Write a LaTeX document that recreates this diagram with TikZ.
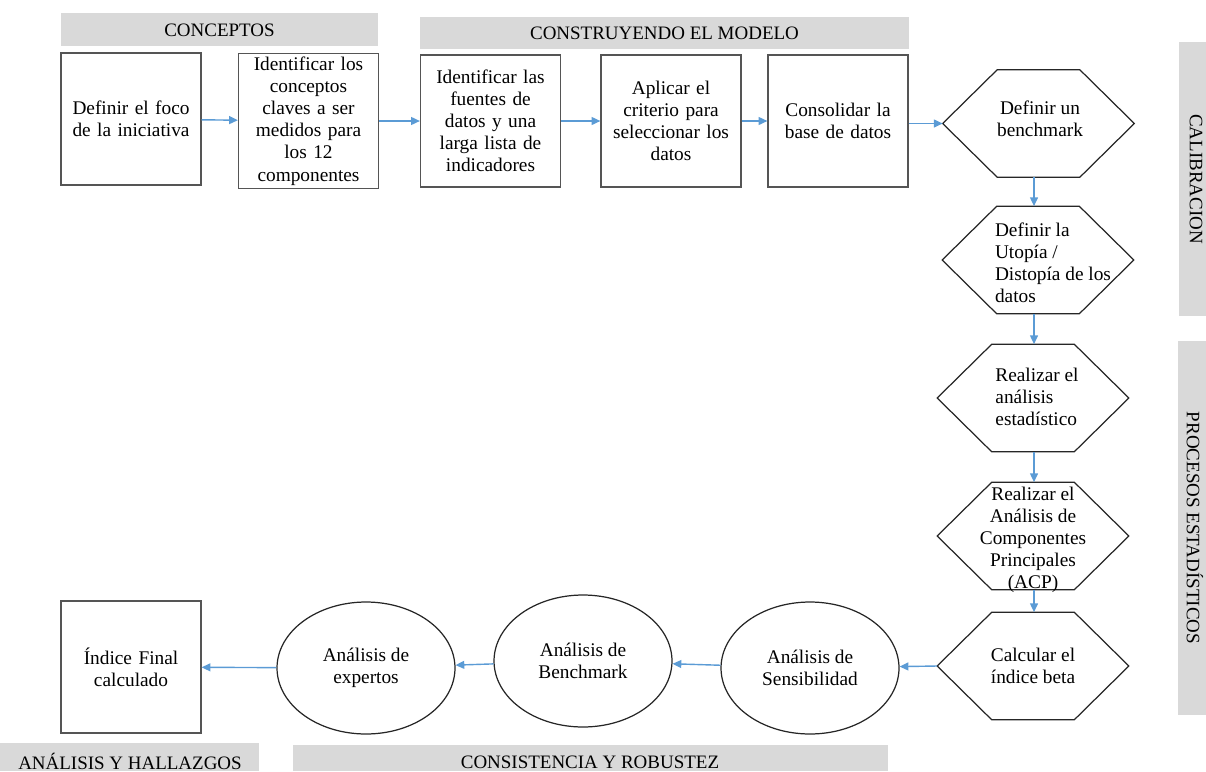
\documentclass[tikz,border=0pt]{standalone}
\usepackage{fontspec}
\setmainfont{Liberation Serif}
\usetikzlibrary{shapes.geometric,arrows.meta,calc}
\definecolor{bargray}{HTML}{D9D9D9}
\definecolor{arrowblue}{HTML}{5B9BD5}
\definecolor{boxline}{HTML}{555555}
\begin{document}
\begin{tikzpicture}[x=0.02cm,y=-0.02cm,
  font=\fontsize{11}{12.6}\selectfont,
  bartext/.style={inner sep=0,font=\fontsize{10.8}{12}\selectfont},
  stepbox/.style={draw=boxline,line width=0.7pt,minimum width=2.8cm,minimum height=2.64cm,inner sep=2pt,text width=2.5cm,align=center},
  hexbox/.style={draw=none,minimum width=3.82cm,minimum height=2.14cm,inner sep=0},
  hexline/.style={draw=black!85,line width=0.7pt},
  hextext/.style={inner sep=0,align=center},
  oval/.style={ellipse,draw=black!85,line width=0.7pt,minimum width=3.56cm,minimum height=2.64cm,inner sep=0,align=center},
  flow/.style={draw=arrowblue,line width=0.8pt,-{Triangle[length=5pt,width=4.5pt]}}
]
\useasboundingbox (0,0) rectangle (1206,771);

% header bars
\fill[bargray] (61,13) rectangle (378,46);
\node[bartext] (hc) at (219.5,30) {CONCEPTOS};
\fill[bargray] (420,17) rectangle (909,49);
\node[bartext] (hm) at (664.5,33) {CONSTRUYENDO EL MODELO};
\fill[bargray] (1179,42) rectangle (1206,316);
\node[bartext,rotate=-90] (hcal) at (1196,179) {CALIBRACION};
\fill[bargray] (1178,341) rectangle (1206,715);
\node[bartext,rotate=-90] (hpro) at (1195,528) {PROCESOS ESTADÍSTICOS};
\fill[bargray] (0,743) rectangle (259,771);
\node[bartext] (hana) at (130,761) {ANÁLISIS Y HALLAZGOS};
\fill[bargray] (293,745) rectangle (888,771);
\node[bartext] (hcon) at (590,762) {CONSISTENCIA Y ROBUSTEZ};

% top row boxes
\node[stepbox] (b1) at (131,119) {Definir el foco\\de la iniciativa};
\node[stepbox] (b2) at (308.5,121) {Identificar los\\conceptos\\claves a ser\\medidos para\\los 12\\componentes};
\node[stepbox] (b3) at (490.5,121) {Identificar las\\fuentes de\\datos y una\\larga lista de\\indicadores};
\node[stepbox] (b4) at (671,121) {Aplicar el\\criterio para\\seleccionar los\\datos};
\node[stepbox] (b5) at (838,121) {Consolidar la\\base de datos};

% hexagons
\node[hexbox] (h1) at (1038.5,123.5) {};
\node[hexbox] (h2) at (1038,260) {};
\node[hexbox] (h3) at (1033,398) {};
\node[hexbox] (h4) at (1033,536) {};
\node[hexbox] (h5) at (1033,666) {};
\foreach \n in {h1,h2,h3,h4,h5}{
  \draw[hexline] (\n.west) -- ($(\n.north west)!0.285!(\n.north east)$) -- ($(\n.north west)!0.715!(\n.north east)$) -- (\n.east) -- ($(\n.south west)!0.715!(\n.south east)$) -- ($(\n.south west)!0.285!(\n.south east)$) -- cycle;
}
\node[hextext] (t1) at (1040,119) {Definir un\\benchmark};
\node[hextext,align=left] (t2) at (1053,263) {Definir la\\Utopía /\\Distopía de los\\datos};
\node[hextext,align=left] (t3) at (1037,397) {Realizar el\\análisis\\estadístico};
\node[hextext] (t4) at (1033,540) {Realizar el\\Análisis de\\Componentes\\Principales\\(ACP)};
\node[hextext] (t5) at (1033,666) {Calcular el\\índice beta};

% bottom row
\node[oval] (c1) at (810,668) {Análisis de\\Sensibilidad};
\node[oval] (c2) at (583,661) {Análisis de\\Benchmark};
\node[oval] (c3) at (366,668) {Análisis de\\expertos};
\node[stepbox] (bf) at (131,667) {Índice Final\\calculado};

% connectors
\coordinate (vx) at (1034,0);
\draw[flow] (b1) -- (b2);
\draw[flow] (b2) -- (b3);
\draw[flow] (b3) -- (b4);
\draw[flow] (b4) -- (b5);
\draw[flow] (b5.east |- h1.west) -- (h1.west);
\draw[flow] (h1.south -| vx) -- (h2.north -| vx);
\draw[flow] (h2.south -| vx) -- (h3.north -| vx);
\draw[flow] (h3.south -| vx) -- (h4.north -| vx);
\draw[flow] (h4.south -| vx) -- (h5.north -| vx);
\draw[flow] (h5.west) -- (c1);
\draw[flow] (c1) -- (c2);
\draw[flow] (c2) -- (c3);
\draw[flow] (c3) -- (bf);
\end{tikzpicture}
\end{document}
